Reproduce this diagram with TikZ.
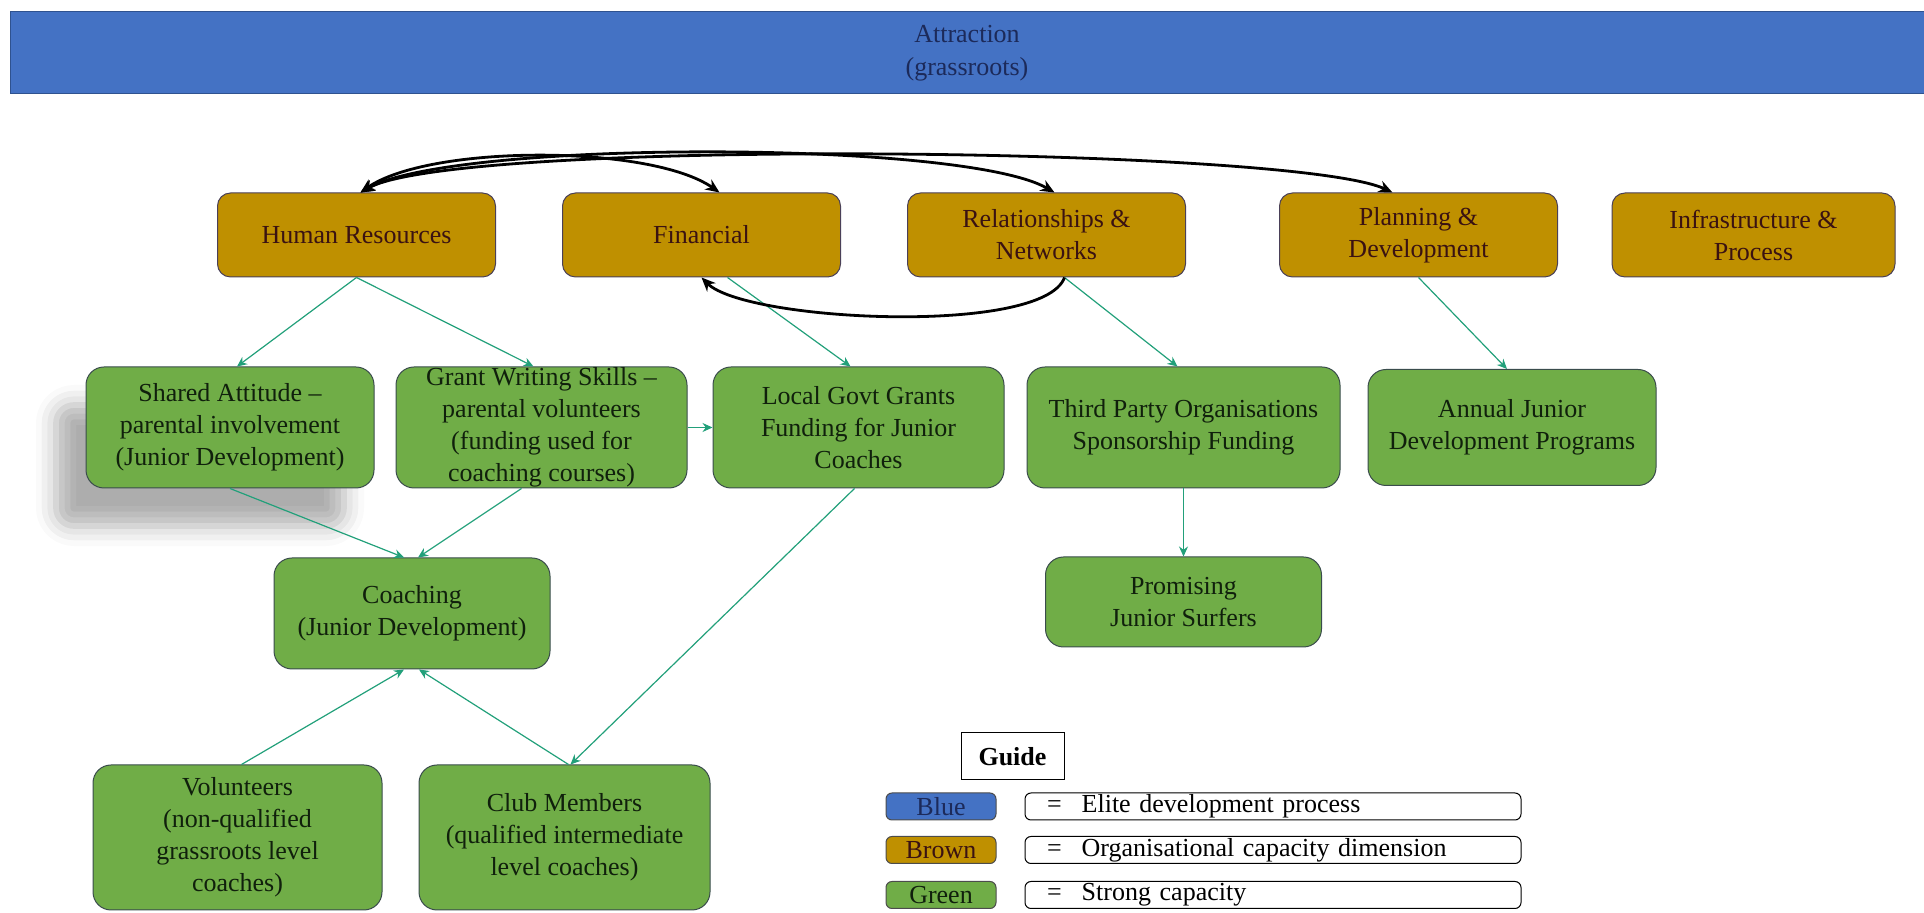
\documentclass[tikz,border=0pt]{standalone}
\usepackage{fontspec}
\setmainfont{Liberation Serif}
\usepackage{tikz}
\usetikzlibrary{positioning, shapes, arrows.meta, shadows.blur}

\definecolor{procblue}{HTML}{4472C4}
\definecolor{procedge}{HTML}{2F528F}
\definecolor{proctext}{HTML}{1C2A5A}
\definecolor{dimbrown}{HTML}{BF9000}
\definecolor{dimedge}{HTML}{4A4058}
\definecolor{dimtext}{HTML}{3A1212}
\definecolor{capgreen}{HTML}{70AD47}
\definecolor{capedge}{HTML}{3A4C4C}
\definecolor{captext}{HTML}{10200C}
\definecolor{linkgreen}{HTML}{22A07A}

\tikzset{
  basebox/.style={align=center, inner xsep=3pt, inner ysep=0pt, line width=0.5pt,
    font=\fontsize{13}{16}\selectfont},
  barbox/.style={basebox, fill=procblue, draw=procedge, text=proctext,
    minimum width=957pt, minimum height=41pt, font=\fontsize{13}{16.5}\selectfont},
  dimbox/.style={basebox, rounded corners=6.5pt, fill=dimbrown, draw=dimedge, text=dimtext,
    minimum width=139pt, minimum height=42pt},
  capbox/.style={basebox, rounded corners=9pt, fill=capgreen, draw=capedge, text=captext,
    minimum width=145.5pt, minimum height=60.5pt},
  swatchbox/.style={basebox, rounded corners=3pt, draw=black!70, inner sep=0pt,
    minimum width=55pt, minimum height=13.5pt},
  keybox/.style={basebox, rounded corners=3pt, draw=black, fill=white, align=left,
    text width=226pt, inner xsep=11pt, minimum height=13.5pt},
  greenlink/.style={->, color=linkgreen, line width=0.6pt},
  blacktie/.style={color=black, line width=1.4pt, >={Stealth[length=7pt,width=6pt]}}
}

\begin{document}
\begin{tikzpicture}[>={Stealth[length=5pt,width=4.5pt]}, node distance=2cm, on grid]
\useasboundingbox (0,0) rectangle (962pt,-456.5pt);

\node[barbox] (AT) at (483.5pt,-26.5pt) {Attraction\\(grassroots)};

\node[dimbox] (HR) at (178.25pt,-117.5pt) {Human Resources};
\node[dimbox, right=172.5pt of HR] (FI) {Financial};
\node[dimbox, right=172.5pt of FI] (RN) {Relationships \&\\Networks};
\node[dimbox, right=186pt of RN] (PD) {Planning \&\\Development};
\node[dimbox, right=167.5pt of PD, minimum width=141.5pt] (IP) {Infrastructure \&\\Process};

\node[capbox, minimum width=144pt, blur shadow={shadow xshift=-15pt, shadow yshift=-19pt,
  shadow blur radius=10pt, shadow opacity=32}] (SA) at (115pt,-213.75pt)
  {Shared Attitude –\\parental involvement\\(Junior Development)};
\node[capbox, right=155.75pt of SA] (GW) {Grant Writing Skills –\\parental volunteers\\(funding used for\\coaching courses)};
\node[capbox, right=158.5pt of GW] (LG) {Local Govt Grants\\Funding for Junior\\Coaches};
\node[capbox, right=162.5pt of LG, minimum width=156.5pt] (TP) {Third Party Organisations\\Sponsorship Funding};
\node[capbox, right=164.25pt of TP, minimum width=144pt, minimum height=58pt] (AJ) {Annual Junior\\Development Programs};

\node[capbox, below right=93pt and 91pt of SA, minimum width=138pt, minimum height=55.5pt] (CO) {Coaching\\(Junior Development)};
\node[capbox, below=87.25pt of TP, minimum width=138pt, minimum height=45pt] (PJ) {Promising\\Junior Surfers};
\node[capbox, below left=112pt and 87.25pt of CO, minimum width=144.5pt, minimum height=72.5pt] (VO) {Volunteers\\(non-qualified\\grassroots level\\coaches)};
\node[capbox, right=163.5pt of VO, minimum height=72.5pt] (CM) {Club Members\\(qualified intermediate\\level coaches)};

\node[basebox, draw=black, fill=white, minimum width=51.5pt, minimum height=23.5pt,
  font=\fontsize{13}{16}\selectfont\bfseries] (GD) at (506.25pt,-378.25pt) {Guide};
\node[swatchbox, fill=procblue, text=proctext] (SB) at (470.5pt,-403.25pt) {Blue};
\node[swatchbox, fill=dimbrown, text=dimtext, below=21.75pt of SB] (SO) {Brown};
\node[swatchbox, fill=capgreen, text=captext, below=22.5pt of SO] (SG) {Green};
\node[keybox, right=166pt of SB] (KB) {=\hspace{10pt}Elite development process};
\node[keybox, right=166pt of SO] (KO) {=\hspace{10pt}Organisational capacity dimension};
\node[keybox, right=166pt of SG] (KG) {=\hspace{10pt}Strong capacity};

\path[greenlink]
(HR.south) edge ([xshift=3.5pt]SA.north)
(HR.south) edge ([xshift=-4pt]GW.north)
([xshift=13pt]FI.south) edge ([xshift=-4pt]LG.north)
(GW.east) edge (LG.west)
([xshift=9pt]RN.south) edge ([xshift=-3pt]TP.north)
(PD.south) edge ([xshift=-2.5pt]AJ.north)
(TP.south) edge (TP.south |- PJ.north)
(SA.south) edge ([xshift=-4pt]CO.north)
([xshift=-10pt]GW.south) edge ([xshift=3pt]CO.north)
([xshift=2pt]VO.north) edge ([xshift=-4pt]CO.south)
([xshift=2pt]CM.north) edge ([xshift=3.5pt]CO.south)
([xshift=-2pt]LG.south) edge ([xshift=3pt]CM.north);

\path[blacktie]
([xshift=2pt]HR.north) edge[<->, out=35, in=145, looseness=0.6] ([xshift=9pt]FI.north)
([xshift=2pt]HR.north) edge[<->, out=30, in=150, looseness=0.39] ([xshift=4pt]RN.north)
([xshift=2pt]HR.north) edge[<->, out=30, in=155, looseness=0.27] ([xshift=-13pt]PD.north)
([xshift=9pt]RN.south) edge[->, out=-110, in=-45, looseness=0.44] (FI.south);
\end{tikzpicture}
\end{document}
